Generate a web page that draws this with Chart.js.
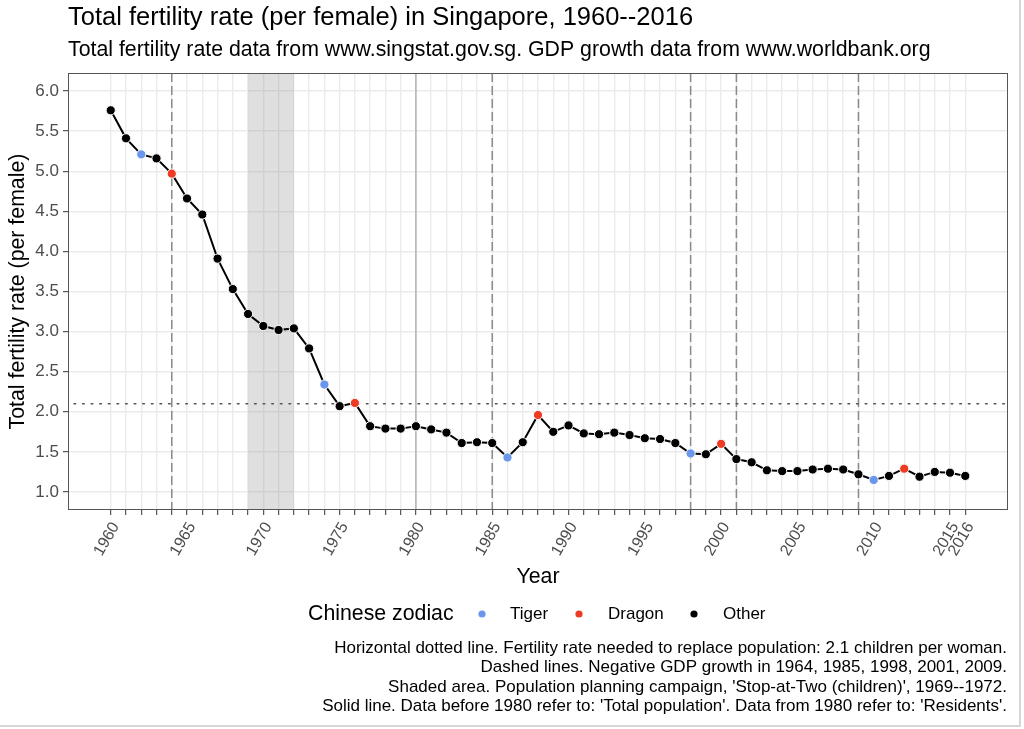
<!DOCTYPE html>
<html>
<head>
<meta charset="utf-8">
<script src="https://cdn.jsdelivr.net/npm/chart.js@4.4.1/dist/chart.umd.min.js"></script>
<style>
html,body{margin:0;padding:0;background:#fff;}
#wrap{position:relative;width:1024px;height:729px;overflow:hidden;background:#fff;}
#frameR{position:absolute;left:1019px;top:0;width:2px;height:727px;background:#d6d6d6;}
#frameB{position:absolute;left:0;top:725px;width:1021px;height:2px;background:#d6d6d6;}
</style>
</head>
<body>
<div id="wrap"><canvas id="c" width="1024" height="729"></canvas><div id="frameR"></div><div id="frameB"></div></div>
<script>
// ---- data ----
const years = [1960,1961,1962,1963,1964,1965,1966,1967,1968,1969,
               1970,1971,1972,1973,1974,1975,1976,1977,1978,1979,
               1980,1981,1982,1983,1984,1985,1986,1987,1988,1989,
               1990,1991,1992,1993,1994,1995,1996,1997,1998,1999,
               2000,2001,2002,2003,2004,2005,2006,2007,2008,2009,
               2010,2011,2012,2013,2014,2015,2016];
const tfr = [5.76,5.41,5.21,5.16,4.97,4.66,4.46,3.91,3.53,3.22,
             3.07,3.02,3.04,2.79,2.34,2.07,2.11,1.82,1.79,1.79,
             1.82,1.78,1.74,1.61,1.62,1.61,1.43,1.62,1.96,1.75,
             1.83,1.73,1.72,1.74,1.71,1.67,1.66,1.61,1.48,1.47,
             1.60,1.41,1.37,1.27,1.26,1.26,1.28,1.29,1.28,1.22,
             1.15,1.20,1.29,1.19,1.25,1.24,1.20];
const tigerYears = [1962,1974,1986,1998,2010];
const dragonYears = [1964,1976,1988,2000,2012];
const zodiacLabels = ['Tiger','Dragon','Other'];
const xTickLabels = [1960,1965,1970,1975,1980,1985,1990,1995,2000,2005,2010,2015,2016];
const yTickValues = [1.0,1.5,2.0,2.5,3.0,3.5,4.0,4.5,5.0,5.5,6.0];
const negativeGdpYears = [1964,1985,1998,2001,2009];
const campaignYears = [1969,1972];
const dataSwitchYear = [1980];
const replacementRate = [2.1];
const titleText = 'Total fertility rate (per female) in Singapore, 1960--2016';
const subtitleText = 'Total fertility rate data from www.singstat.gov.sg. GDP growth data from www.worldbank.org';
const captionLines = [
  'Horizontal dotted line. Fertility rate needed to replace population: 2.1 children per woman.',
  'Dashed lines. Negative GDP growth in 1964, 1985, 1998, 2001, 2009.',
  "Shaded area. Population planning campaign, 'Stop-at-Two (children)', 1969--1972.",
  "Solid line. Data before 1980 refer to: 'Total population'. Data from 1980 refer to: 'Residents'."
];

// ---- styles ----
const FONT = "'Liberation Sans', Arial, Helvetica, sans-serif";
Chart.defaults.font.family = FONT;
const zodiacColors = {Tiger:'#6A96EC', Dragon:'#EE3B24', Other:'#000000'};
const pointColors = years.map(y => tigerYears.includes(y) ? zodiacColors.Tiger :
                                   dragonYears.includes(y) ? zodiacColors.Dragon : zodiacColors.Other);

const decor = {
  id:'decor',
  beforeDraw(chart){
    const c = chart.ctx;
    c.save(); c.fillStyle='#fff'; c.fillRect(0,0,chart.width,chart.height); c.restore();
  },
  beforeDatasetsDraw(chart){
    const c = chart.ctx, a = chart.chartArea, xs = chart.scales.x, ys = chart.scales.y;
    c.save();
    // shaded campaign
    const x0 = xs.getPixelForValue(campaignYears[0]), x1 = xs.getPixelForValue(campaignYears[1]);
    c.fillStyle = 'rgba(120,120,120,0.24)';
    c.fillRect(x0, a.top, x1-x0, a.bottom-a.top);
    // solid line
    dataSwitchYear.forEach(yv=>{
      const x = xs.getPixelForValue(yv);
      c.strokeStyle='#a8a8a8'; c.lineWidth=1.3; c.setLineDash([]);
      c.beginPath(); c.moveTo(x,a.top); c.lineTo(x,a.bottom); c.stroke();
    });
    // dashed lines
    negativeGdpYears.forEach(yv=>{
      const x = xs.getPixelForValue(yv);
      c.strokeStyle='#8a8a8a'; c.lineWidth=1.5; c.setLineDash([9,4]);
      c.beginPath(); c.moveTo(x,a.top); c.lineTo(x,a.bottom); c.stroke();
    });
    // dotted line
    replacementRate.forEach(v=>{
      const y = ys.getPixelForValue(v);
      c.strokeStyle='#555'; c.lineWidth=1.6; c.setLineDash([1.6,7]); c.lineCap='round';
      c.beginPath(); c.moveTo(a.left+6,y); c.lineTo(a.right,y); c.stroke();
      c.lineCap='butt';
    });
    c.setLineDash([]);
    // panel border
    c.strokeStyle='#555'; c.lineWidth=1;
    c.strokeRect(a.left+0.5, a.top+0.5, a.right-a.left-1, a.bottom-a.top-1);
    c.restore();
  },
  afterDraw(chart){
    const c = chart.ctx, a = chart.chartArea;
    c.save();
    c.fillStyle='#000';
    c.textAlign='left'; c.textBaseline='alphabetic';
    c.font = `25.5px ${FONT}`;
    c.fillText(titleText, 68, 25);
    c.font = `21.3px ${FONT}`;
    c.fillText(subtitleText, 68, 56);
    // y title
    c.save();
    c.translate(18, (a.top+a.bottom)/2);
    c.rotate(-Math.PI/2);
    c.textAlign='center'; c.textBaseline='middle';
    c.font = `21.3px ${FONT}`;
    c.fillText('Total fertility rate (per female)', 0, 0);
    c.restore();
    // x title
    c.textAlign='center'; c.textBaseline='middle';
    c.font = `21.3px ${FONT}`;
    c.fillText('Year', (a.left+a.right)/2, 577);
    // legend
    c.textAlign='left';
    c.fillText('Chinese zodiac', 308, 614);
    const dotX = [482, 579, 694], txtX = [510, 608, 723];
    c.font = `17px ${FONT}`;
    zodiacLabels.forEach((lab,i)=>{
      c.fillStyle = zodiacColors[lab];
      c.beginPath(); c.arc(dotX[i], 614, 3.6, 0, Math.PI*2); c.fill();
      c.fillStyle = '#000';
      c.fillText(lab, txtX[i], 614);
    });
    // caption
    c.textAlign='right';
    c.font = `17px ${FONT}`;
    captionLines.forEach((t,i)=> c.fillText(t, 1007, 648 + i*19.5));
    c.restore();
  }
};

new Chart(document.getElementById('c'), {
  type:'line',
  data:{datasets:[{
    data: years.map((y,i)=>({x:y, y:tfr[i]})),
    borderColor:'#000', borderWidth:2,
    pointRadius:4.6, pointHoverRadius:4.6,
    pointBackgroundColor: pointColors,
    pointBorderColor:'#ffffff', pointBorderWidth:1,
    tension:0
  }]},
  options:{
    responsive:false, animation:false, devicePixelRatio:1,
    layout:{padding:{left:0, top:73, right:16, bottom:0}},
    plugins:{legend:{display:false}, tooltip:{enabled:false}, title:{display:false}},
    scales:{
      x:{
        type:'linear', min:1957.2, max:2018.8,
        afterBuildTicks: s => { s.ticks = years.map(v=>({value:v})); },
        afterFit: s => { s.height = 219; },
        grid:{color:'#EBEBEB', lineWidth:1.4, drawTicks:true, tickLength:5, tickColor:'#333', tickWidth:1},
        border:{display:false},
        ticks:{autoSkip:false, minRotation:60, maxRotation:60, padding:4, labelOffset:5, color:'#4d4d4d',
               font:{size:16}, callback: v => xTickLabels.includes(v) ? String(v) : ''}
      },
      y:{
        type:'linear', min:0.775, max:6.225,
        afterBuildTicks: s => { s.ticks = yTickValues.map(v=>({value:v})); },
        afterFit: s => { s.width = 68; },
        grid:{color:'#EBEBEB', lineWidth:1.4, drawTicks:true, tickLength:5, tickColor:'#333', tickWidth:1},
        border:{display:false},
        ticks:{padding:4, color:'#4d4d4d', font:{size:17}, callback: v => Number(v).toFixed(1)}
      }
    }
  },
  plugins:[decor]
});
</script>
</body>
</html>
